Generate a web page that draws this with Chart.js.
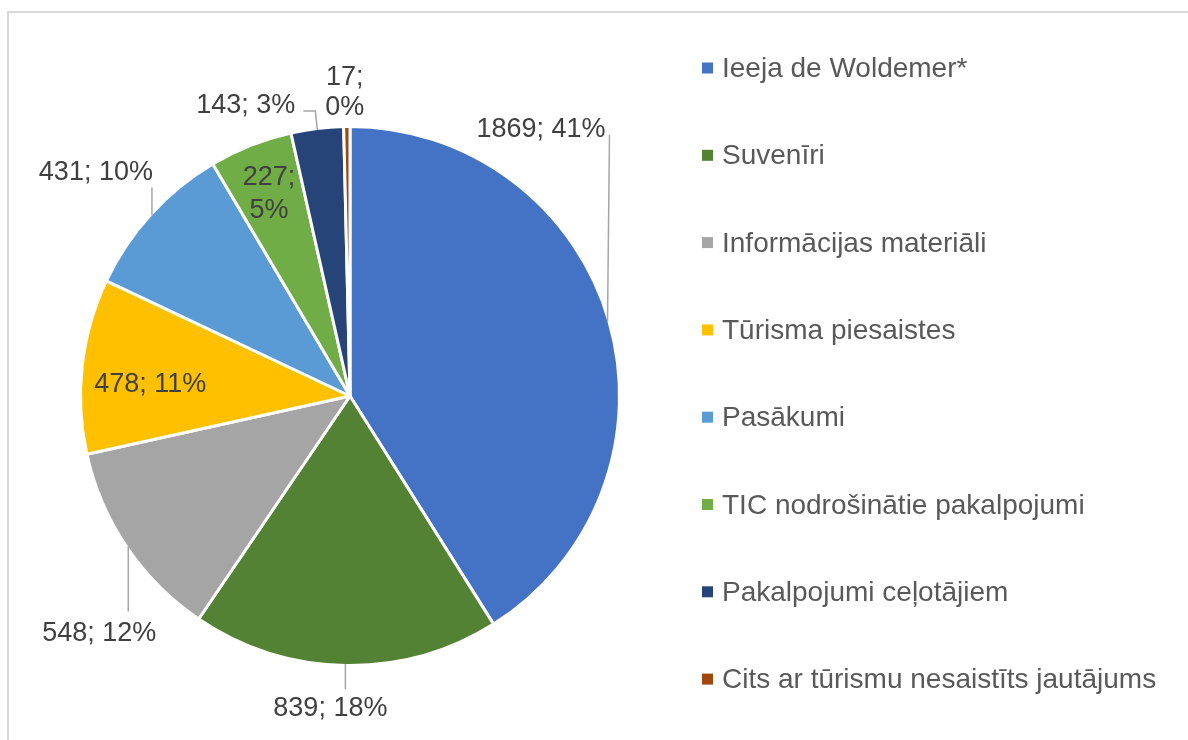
<!DOCTYPE html>
<html>
<head>
<meta charset="utf-8">
<script src="https://cdn.jsdelivr.net/npm/chart.js@4/dist/chart.umd.min.js"></script>
<style>
  html, body { margin: 0; padding: 0; background: #fff; }
  canvas { display: block; }
</style>
</head>
<body>
<canvas id="chart" width="1188" height="740"></canvas>
<script>
// data
const categories = [
  'Ieeja de Woldemer*',
  'Suvenīri',
  'Informācijas materiāli',
  'Tūrisma piesaistes',
  'Pasākumi',
  'TIC nodrošinātie pakalpojumi',
  'Pakalpojumi ceļotājiem',
  'Cits ar tūrismu nesaistīts jautājums'
]
const values = [1869, 839, 548, 478, 431, 227, 143, 17]
const colors = ['#4472C4', '#548235', '#A5A5A5', '#FFC000', '#5B9BD5', '#70AD47', '#264478', '#9E480E']

// where each data label goes, relative to the point on the rim at the slice middle
// mode 'out': text placed at anchor + (dx, dy), leader line drawn to anchor
// mode 'in': text at rho * radius along the middle angle
const labelPlace = [
  { mode: 'out', dx: -2, dy: -185, align: 'right', lead: [[2, -187]] },
  { mode: 'out', dx: -15, dy: 52, align: 'center', lead: [[0, 25]] },
  { mode: 'out', dx: -29, dy: 94, align: 'center', lead: [[0, 65]] },
  { mode: 'in', rho: 0.75, dy: 9 },
  { mode: 'out', dx: 1, dy: -35, align: 'right', lead: [[0, -28]] },
  { mode: 'in', rho: 0.82, dy: 0, split: true },
  { mode: 'out', dx: -22, dy: -17, align: 'right', lead: [[-2, -19], [-14, -19]] },
  { mode: 'out', dx: -2, dy: -43, align: 'center', split: true, lead: [] }
]

// excel style percentages (largest remainder, so they add to 100)
function percents(vals) {
  const total = vals.reduce((a, b) => a + b, 0)
  const raw = vals.map(v => v / total * 100)
  const out = raw.map(Math.floor)
  let left = 100 - out.reduce((a, b) => a + b, 0)
  const order = raw.map((r, i) => [r - Math.floor(r), i]).sort((a, b) => b[0] - a[0])
  for (let k = 0; k < left; k++) out[order[k][1]] += 1
  return out
}
const pcts = percents(values)

const FONT = '"Liberation Sans", Arial, sans-serif'

const framePlugin = {
  id: 'frame',
  beforeDraw(chart) {
    const ctx = chart.ctx
    ctx.save()
    ctx.strokeStyle = '#D9D9D9'
    ctx.lineWidth = 2
    ctx.beginPath()
    ctx.moveTo(1188, 12)
    ctx.lineTo(8, 12)
    ctx.lineTo(8, 740)
    ctx.stroke()
    ctx.restore()
  }
}

const labelPlugin = {
  id: 'sliceLabels',
  afterDatasetsDraw(chart) {
    const ctx = chart.ctx
    const meta = chart.getDatasetMeta(0)
    ctx.save()
    ctx.font = '27px ' + FONT
    ctx.fillStyle = '#404040'
    ctx.textBaseline = 'alphabetic'
    meta.data.forEach((arc, i) => {
      const p = arc.getProps(['x', 'y', 'startAngle', 'endAngle', 'outerRadius'], true)
      const mid = (p.startAngle + p.endAngle) / 2
      const r = p.outerRadius - 1.5
      const ax = p.x + Math.cos(mid) * r
      const ay = p.y + Math.sin(mid) * r
      const place = labelPlace[i]
      const text = values[i] + '; ' + pcts[i] + '%'
      const lines = place.split ? [values[i] + ';', pcts[i] + '%'] : [text]
      if (place.mode === 'in') {
        const cx = p.x + Math.cos(mid) * r * place.rho
        const cy = p.y + Math.sin(mid) * r * place.rho + place.dy
        ctx.textAlign = 'center'
        const step = 33
        const first = cy + 9.5 - (lines.length - 1) * step / 2
        lines.forEach((l, k) => ctx.fillText(l, cx, first + k * step))
      } else {
        if (place.lead.length) {
          ctx.strokeStyle = '#A6A6A6'
          ctx.lineWidth = 1.5
          ctx.beginPath()
          ctx.moveTo(ax, ay)
          place.lead.forEach(pt => ctx.lineTo(ax + pt[0], ay + pt[1]))
          ctx.stroke()
        }
        ctx.textAlign = place.align
        lines.forEach((l, k) => ctx.fillText(l, ax + place.dx, ay + place.dy + k * 30))
      }
    })
    ctx.restore()
  }
}

const legendPlugin = {
  id: 'sideLegend',
  afterDraw(chart) {
    const ctx = chart.ctx
    const top = 68
    const step = 87.3
    ctx.save()
    ctx.font = '28px ' + FONT
    ctx.textAlign = 'left'
    ctx.textBaseline = 'alphabetic'
    categories.forEach((name, i) => {
      const cy = top + i * step
      ctx.fillStyle = colors[i]
      ctx.fillRect(702, cy - 5.5, 11, 11)
      ctx.fillStyle = '#595959'
      ctx.fillText(name, 722, cy + 9)
    })
    ctx.restore()
  }
}

new Chart(document.getElementById('chart'), {
  type: 'pie',
  data: {
    labels: categories,
    datasets: [{
      data: values,
      backgroundColor: colors,
      borderColor: '#ffffff',
      borderWidth: 3,
      hoverOffset: 0,
      radius: 269.5
    }]
  },
  options: {
    responsive: false,
    animation: false,
    devicePixelRatio: 1,
    events: [],
    layout: { padding: { left: 50, right: 538, top: 90, bottom: 38 } },
    plugins: {
      legend: { display: false },
      tooltip: { enabled: false }
    }
  },
  plugins: [framePlugin, labelPlugin, legendPlugin]
})
</script>
</body>
</html>
